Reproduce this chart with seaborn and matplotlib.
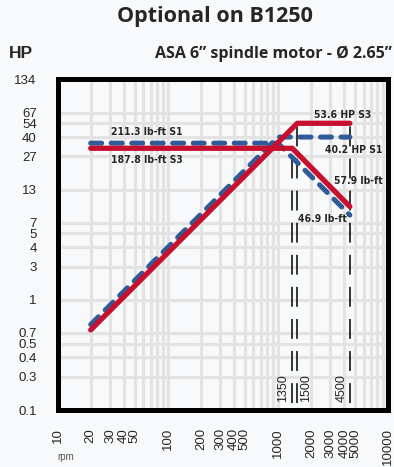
import numpy as np
import pandas as pd
import matplotlib
matplotlib.use("Agg")
import matplotlib.pyplot as plt
from matplotlib.ticker import FixedLocator, LogLocator, NullFormatter
import seaborn as sns

# curves, y in HP (axis is a kW log scale labelled in HP)
s1_power_rpm = [20, 1000, 4500]
s1_power_hp = [0.80, 40.2, 40.2]
s1_torque_rpm = [20, 1000, 4500]
s1_torque_val = [35.4, 35.4, 7.87]
s3_power_rpm = [20, 1500, 4500]
s3_power_hp = [0.715, 53.6, 53.6]
s3_torque_rpm = [20, 1350, 4500]
s3_torque_val = [31.8, 31.8, 9.4]

base_speeds = [1350, 1500, 4500]
base_tops = [31.8, 53.6, 53.6]

x_ticks = [10, 20, 30, 40, 50, 100, 200, 300, 400, 500,
           1000, 2000, 3000, 4000, 5000, 10000]
kw_ticks = [0.1, 0.2, 0.3, 0.4, 0.5, 1, 2, 3, 4, 5, 10, 20, 30, 40, 50, 100]
y_labels = ["0.1", "0.3", "0.4", "0.5", "0.7", "1", "3", "4", "5", "7",
            "13", "27", "40", "54", "67", "134"]
KW2HP = 1.341

BLUE = "#2f5b98"
RED = "#c70f2e"
BG = "#f8f9fb"

sns.set_style("white")
plt.rcParams["font.family"] = ["Liberation Sans", "DejaVu Sans"]

fig = plt.figure(figsize=(3.94, 4.67), dpi=100, facecolor=BG)
ax = fig.add_axes([0.146, 0.122, 0.839, 0.708], facecolor=BG)

df = pd.concat([
    pd.DataFrame({"rpm": s1_power_rpm, "hp": s1_power_hp, "curve": "S1 power"}),
    pd.DataFrame({"rpm": s1_torque_rpm, "hp": s1_torque_val, "curve": "S1 torque"}),
    pd.DataFrame({"rpm": s3_power_rpm, "hp": s3_power_hp, "curve": "S3 power"}),
    pd.DataFrame({"rpm": s3_torque_rpm, "hp": s3_torque_val, "curve": "S3 torque"}),
], ignore_index=True)

ax.set_xscale("log")
ax.set_yscale("log")
ax.set_xlim(10, 10000)
ax.set_ylim(0.1 * KW2HP, 100 * KW2HP)

# base speed markers
y_foot = 0.1 * KW2HP * 10 ** (7 / 110.3)
for rpm, top in zip(base_speeds, base_tops):
    ax.plot([rpm, rpm], [y_foot, top], color="black", lw=1.1,
            linestyle=(0, (13, 8)), zorder=2)

for curve in ["S1 power", "S1 torque"]:
    sns.lineplot(data=df[df.curve == curve], x="rpm", y="hp", ax=ax,
                 color=BLUE, lw=3.6, linestyle=(0, (2.2, 1.9)),
                 dash_capstyle="round", solid_capstyle="round",
                 sort=False, estimator=None, zorder=3)
for curve in ["S3 power", "S3 torque"]:
    sns.lineplot(data=df[df.curve == curve], x="rpm", y="hp", ax=ax,
                 color=RED, lw=3.8, solid_capstyle="round",
                 sort=False, estimator=None, zorder=4)

# ticks / grid
ax.xaxis.set_major_locator(FixedLocator(x_ticks))
ax.set_xticklabels([str(v) for v in x_ticks], rotation=90, fontsize=9.5)
ax.xaxis.set_minor_locator(LogLocator(base=10, subs=np.arange(2, 10)))
ax.xaxis.set_minor_formatter(NullFormatter())
ax.yaxis.set_major_locator(FixedLocator([k * KW2HP for k in kw_ticks]))
ax.set_yticklabels(y_labels, fontsize=9.5)
ax.yaxis.set_minor_locator(FixedLocator([]))
ax.tick_params(which="major", direction="out", length=9, width=3.6,
               color="black", pad=4)
ax.tick_params(axis="y", which="major", pad=6)
ax.tick_params(which="minor", length=0)
ax.grid(True, axis="x", which="both", color="#e3e3e3", lw=2.3, zorder=0)
ax.grid(True, axis="y", which="major", color="#e3e3e3", lw=2.3, zorder=0)
ax.set_axisbelow(True)
for sp in ax.spines.values():
    sp.set_visible(True)
    sp.set_linewidth(3.6)
    sp.set_color("black")
ax.set_xlabel("")
ax.set_ylabel("")

# labels on the curves
ann = dict(transform=ax.transAxes, ha="center", va="center", fontsize=7.5,
           fontweight="bold", fontstretch="condensed", family="DejaVu Sans")
ax.text(0.271, 0.841, "211.3 lb-ft S1", **ann)
ax.text(0.271, 0.756, "187.8 lb-ft S3", **ann)
ax.text(0.862, 0.893, "53.6 HP S3", **ann)
ax.text(0.897, 0.787, "40.2 HP S1", **ann)
ax.text(0.909, 0.693, "57.9 lb-ft", **ann)
ax.text(0.800, 0.578, "46.9 lb-ft", **ann)

for rpm, dx in zip(base_speeds, [-6.5, 6.5, -6]):
    ax.annotate(str(rpm), xy=(rpm, 0.1 * KW2HP), xytext=(dx, 6),
                textcoords="offset points", rotation=90, ha="center",
                va="bottom", fontsize=9)

fig.text(0.546, 0.953, "Optional on B1250", ha="center", va="baseline",
         fontsize=15.5, fontweight="bold", family=["Open Sans", "DejaVu Sans"])
fig.text(0.023, 0.876, "HP", ha="left", va="baseline", fontsize=12.5,
         fontweight="bold")
fig.text(0.995, 0.876, "ASA 6\u201d spindle motor - \u00d8 2.65\u201d", ha="right",
         va="baseline", fontsize=11.5, fontweight="bold",
         family=["Open Sans", "DejaVu Sans"])
fig.text(0.168, 0.021, "rpm", ha="center", va="center", fontsize=7,
         color="#555555")

fig.savefig("out.png", dpi=100, facecolor=BG)
